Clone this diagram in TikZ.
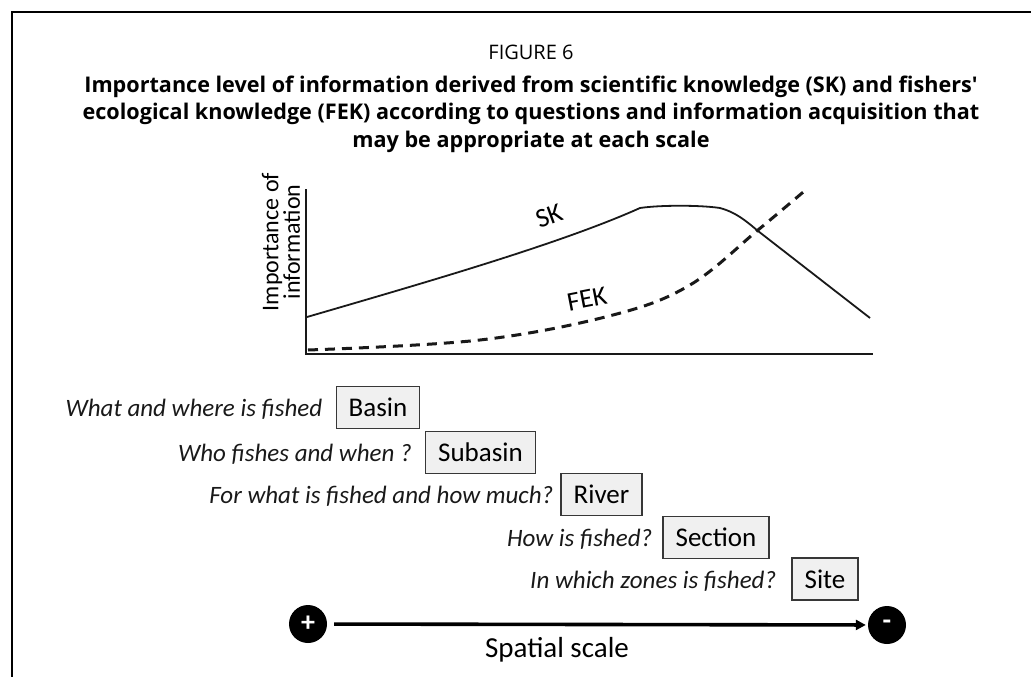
\documentclass[tikz,border=0pt]{standalone}
\usepackage{fontspec}
\setmainfont{Carlito}
\newfontfamily\titlefont{Open Sans}
\usetikzlibrary{arrows.meta,positioning}
\definecolor{boxgray}{RGB}{240,240,240}
\definecolor{edgegray}{RGB}{55,55,55}
\definecolor{inkgray}{RGB}{25,25,25}

\begin{document}
\begin{tikzpicture}[x=1pt, y=-1pt,
    scalebox/.style={rectangle, draw=edgegray, fill=boxgray, line width=1.4pt, minimum height=42pt, inner xsep=12.5pt, font=\fontsize{27}{30}\selectfont},
    ask/.style={inner sep=0pt, font=\fontsize{25}{28}\selectfont\itshape, text=inkgray},
    curve/.style={inkgray, line width=1.8pt},
    sign/.style={circle, fill=black, text=white, minimum size=38pt, inner sep=0pt, font=\fontsize{28}{28}\selectfont\bfseries},
    scalearrow/.style={-{Triangle[length=10pt,width=10pt]}, line width=3.6pt, shorten <=7pt, shorten >=2pt}
]
    \useasboundingbox (0,0) rectangle (1031,677);
    \draw[line width=2pt] (12,677) -- (12,12) -- (1031,12);

    % title
    \node[font=\titlefont\fontsize{20}{22}\selectfont] (fig) at (531,52) {FIGURE 6};
    \node[font=\titlefont\fontsize{21.6}{27.5}\selectfont\bfseries, align=center] (caption) at (531,114)
        {Importance level of information derived from scientific knowledge (SK) and fishers'\\
         ecological knowledge (FEK) according to questions and information acquisition that\\
         may be appropriate at each scale};

    % chart
    \draw[inkgray, line width=1.6pt] (306,189) -- (306,354) -- (873,354);
    \node[rotate=90, align=center, font=\fontsize{24}{20}\selectfont] (ylab) at (281,242) {Importance of\\information};
    \draw[curve] (307,317) .. controls (420,284) and (560,244) .. (640,208)
        .. controls (660,205) and (700,205) .. (720,208)
        .. controls (735,212) and (745,220) .. (758,231) -- (870,318);
    \draw[curve, line width=3pt, dash pattern=on 10pt off 7pt] plot[smooth, tension=0.6] coordinates {(308,350) (480,340) (613,315) (690,285) (758,230) (808,188)};
    \node[rotate=20, font=\fontsize{27}{27}\selectfont] (sk) at (549,216) {SK};
    \node[rotate=11, font=\fontsize{27}{27}\selectfont] (fek) at (587,299) {FEK};

    % scales and questions
    \node[scalebox] (basin) at (378,407.5) {Basin};
    \node[scalebox] (subasin) at (480.5,452.5) {Subasin};
    \node[scalebox] (river) at (601.5,494.5) {River};
    \node[scalebox] (section) at (716,537.5) {Section};
    \node[scalebox] (site) at (825,579) {Site};

    \node[ask, left=13pt of basin.base west, anchor=base east] (q1) {What and where is fished};
    \node[ask, left=13pt of subasin.base west, anchor=base east] (q2) {Who fishes and when ?};
    \node[ask, left=7pt of river.base west, anchor=base east] (q3) {For what is fished and how much?};
    \node[ask, left=10pt of section.base west, anchor=base east] (q4) {How is fished?};
    \node[ask, left=15pt of site.base west, anchor=base east] (q5) {In which zones is fished?};

    % spatial scale
    \node[sign] (more) at (308,624) {+};
    \node[sign] (less) at (887,625) {-};
    \draw[scalearrow] (more) -- (less);
    \node[font=\fontsize{29}{29}\selectfont] (spatial) at (557,650) {Spatial scale};
\end{tikzpicture}
\end{document}
